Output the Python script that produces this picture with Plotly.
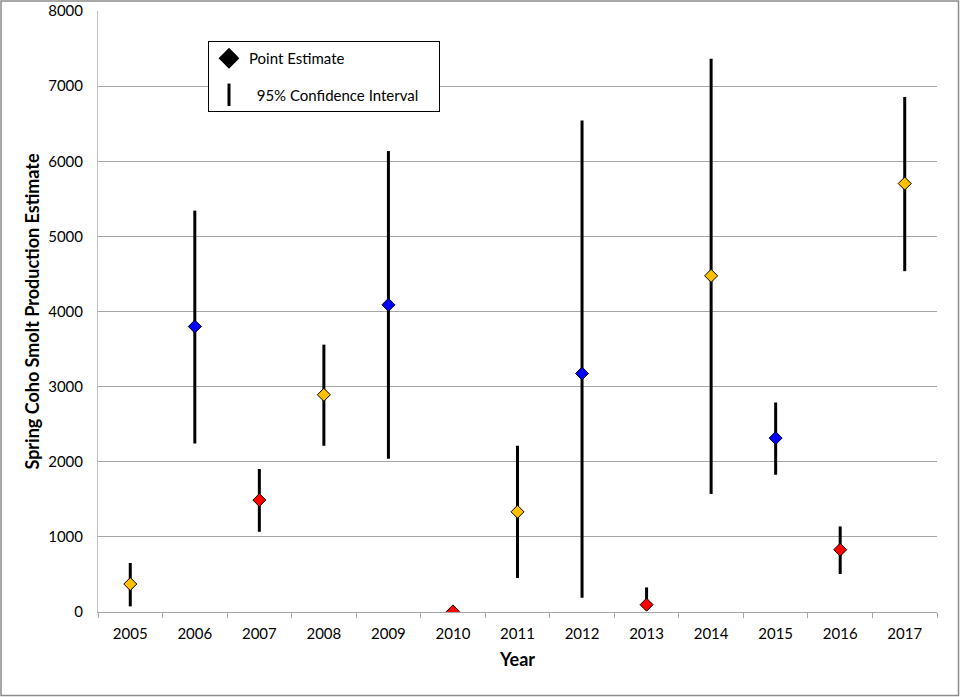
import plotly.graph_objects as go

years = ["2005", "2006", "2007", "2008", "2009", "2010", "2011",
         "2012", "2013", "2014", "2015", "2016", "2017"]
estimate = [372, 3800, 1490, 2891, 4089, 8, 1334, 3175, 97, 4475, 2315, 829, 5703]
ci_upper = [652, 5343, 1903, 3559, 6138, 8, 2213, 6541, 327, 7366, 2789, 1139, 6856]
ci_lower = [75, 2243, 1068, 2213, 2040, 8, 452, 190, 97, 1570, 1827, 506, 4537]
point_colors = ["#FFC000", "#0000FF", "#FF0000", "#FFC000", "#0000FF", "#FF0000", "#FFC000",
                "#0000FF", "#FF0000", "#FFC000", "#0000FF", "#FF0000", "#FFC000"]

err_plus = [u - e for u, e in zip(ci_upper, estimate)]
err_minus = [e - l for e, l in zip(estimate, ci_lower)]

FONT = "Lato"
W, H = 960, 697
ML, MR, MT, MB = 98, 23, 11, 85
pw, ph = W - ML - MR, H - MT - MB

fig = go.Figure()
fig.add_trace(go.Scatter(
    x=years, y=estimate, mode="markers", showlegend=False,
    marker=dict(symbol="diamond", size=10, color=point_colors,
                line=dict(color="black", width=1)),
    error_y=dict(type="data", symmetric=False, array=err_plus, arrayminus=err_minus,
                 color="black", thickness=3, width=0),
))
fig.add_trace(go.Scatter(
    x=[None], y=[None], mode="markers", name="Point Estimate", legendgroup="a",
    marker=dict(symbol="diamond", size=17, color="black"),
))
fig.add_trace(go.Scatter(
    x=[None], y=[None], mode="markers",
    name="  95% Confidence Interval\u00a0\u00a0\u00a0\u00a0", legendgroup="b",
    marker=dict(symbol="line-ns", size=26, color="black", line=dict(color="black", width=3)),
))

fig.update_layout(
    width=W, height=H,
    margin=dict(l=ML, r=MR, t=MT, b=MB, autoexpand=False),
    paper_bgcolor="white", plot_bgcolor="white",
    font=dict(family=FONT, size=15, color="black"),
    legend=dict(x=(208 - ML) / pw, y=1 - (41 - MT) / ph, xanchor="left", yanchor="top",
                bordercolor="black", borderwidth=1, bgcolor="white",
                tracegroupgap=14, font=dict(family=FONT, size=15),
                itemwidth=30),
    xaxis=dict(type="category", range=[-0.5, len(years) - 0.5],
               tickson="boundaries", ticks="outside", ticklen=5,
               tickcolor="#A6A6A6", showline=True, linecolor="#A6A6A6", linewidth=1,
               showgrid=False, tickfont=dict(size=15), automargin=False,
               ticklabelstandoff=8,
               title=dict(text="<b>Year</b>", font=dict(size=18), standoff=12)),
    yaxis=dict(range=[0, 8000], dtick=1000, showgrid=True, gridcolor="#A6A6A6",
               gridwidth=1, showline=True, linecolor="#BFBFBF", linewidth=1,
               ticks="", zeroline=False, tickfont=dict(size=15), automargin=False,
               ticklabelstandoff=11,
               title=dict(text="<b>Spring Coho Smolt Production Estimate</b>",
                          font=dict(size=18), standoff=3)),
    shapes=[dict(type="rect", xref="paper", yref="paper",
                 x0=-(ML - 1) / pw, x1=1 + (MR - 1.5) / pw,
                 y0=-(MB - 1.5) / ph, y1=1 + (MT - 1) / ph,
                 line=dict(color="#8C8C8C", width=1.5), fillcolor="rgba(0,0,0,0)", layer="below")],
)

fig.write_html("out.html", config={"displayModeBar": False},
               post_script="document.body.style.margin='0';")
